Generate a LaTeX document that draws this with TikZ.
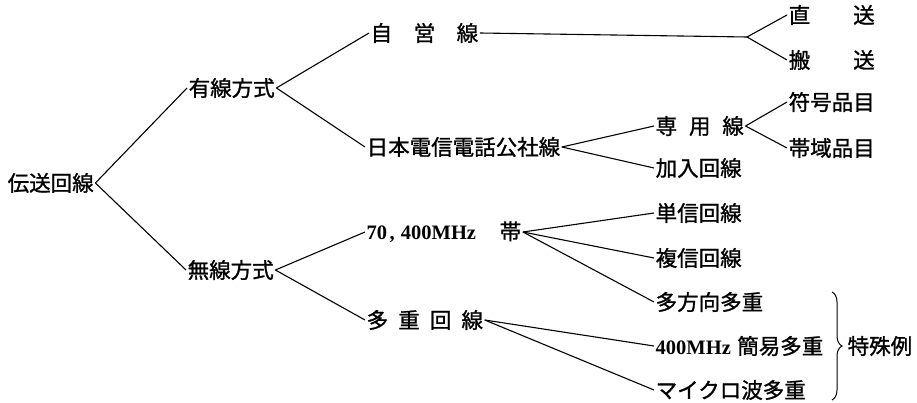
\documentclass[tikz,border=0pt]{standalone}
\usepackage{fontspec}
\setmainfont{Liberation Serif}
\newfontfamily\cjk[FakeBold=1.2]{Noto Sans CJK JP}
\usetikzlibrary{decorations.pathreplacing}
\newcommand{\jpf}{\cjk\fontsize{21.5}{24}\selectfont}
\newcommand{\ltf}{\rmfamily\bfseries\fontsize{20.5}{24}\selectfont}
\begin{document}
\begin{tikzpicture}[x=1pt,y=-1pt,
  lbl/.style={anchor=west,inner sep=1.5pt,font=\jpf},
  conn/.style={line width=1.1pt,line join=round}]
\useasboundingbox (0,0) rectangle (917,403);
% nodes
\node[lbl] (root) at (6,183) {伝送回線};
\node[lbl] (yusen) at (187,88) {有線方式};
\node[lbl] (musen) at (186,270) {無線方式};
\node[lbl] (jiei) at (369,33) {自\hspace{1em}営\hspace{1em}線};
\node[lbl] (ntt) at (365,147) {日本電信電話公社線};
\node[lbl] (band) at (365,232) {{\ltf 70\hspace{0.12em},\hspace{0.3em}400MHz}\hspace{1.1em}帯};
\node[lbl] (multi) at (365,320) {多\hspace{0.47em}重\hspace{0.47em}回\hspace{0.47em}線};
\node[lbl] (choku) at (787,15) {直\hspace{2em}送};
\node[lbl] (hanso) at (787,60) {搬\hspace{2em}送};
\node[lbl] (fugo) at (787,102) {符号品目};
\node[lbl] (taiki) at (787,148) {帯域品目};
\node[lbl] (senyo) at (654,126) {専\hspace{0.55em}用\hspace{0.55em}線};
\node[lbl] (kanyu) at (654,168) {加入回線};
\node[lbl] (tanshin) at (654,213) {単信回線};
\node[lbl] (fukushin) at (654,258) {複信回線};
\node[lbl] (tahoko) at (654,302) {多方向多重};
\node[lbl] (kan) at (654,346) {{\ltf 400MHz}\hspace{0.3em}簡易多重};
\node[lbl] (micro) at (654,390) {マイクロ波多重};
\node[lbl] (toku) at (846,346) {特殊例};
\coordinate (sp) at (747,37);
% connectors
\draw[conn] (yusen.west) -- (root.east) -- (musen.west);
\draw[conn] (jiei.west) -- (yusen.east) -- (ntt.west);
\draw[conn] (band.west) -- (musen.east) -- (multi.west);
\draw[conn] (jiei.east) -- (sp);
\draw[conn] (choku.west) -- (sp) -- (hanso.west);
\draw[conn] (senyo.west) -- (ntt.east) -- (kanyu.west);
\draw[conn] (fugo.west) -- (senyo.east) -- (taiki.west);
\draw[conn] (band.east) -- (tanshin.west);
\draw[conn] (band.east) -- (fukushin.west);
\draw[conn] (band.east) -- (tahoko.west);
\draw[conn] (multi.east) -- (kan.west);
\draw[conn] (multi.east) -- (micro.west);
\draw[line width=1pt,decorate,decoration={brace,amplitude=10pt}] (832,292) -- (832,400);
\end{tikzpicture}
\end{document}
